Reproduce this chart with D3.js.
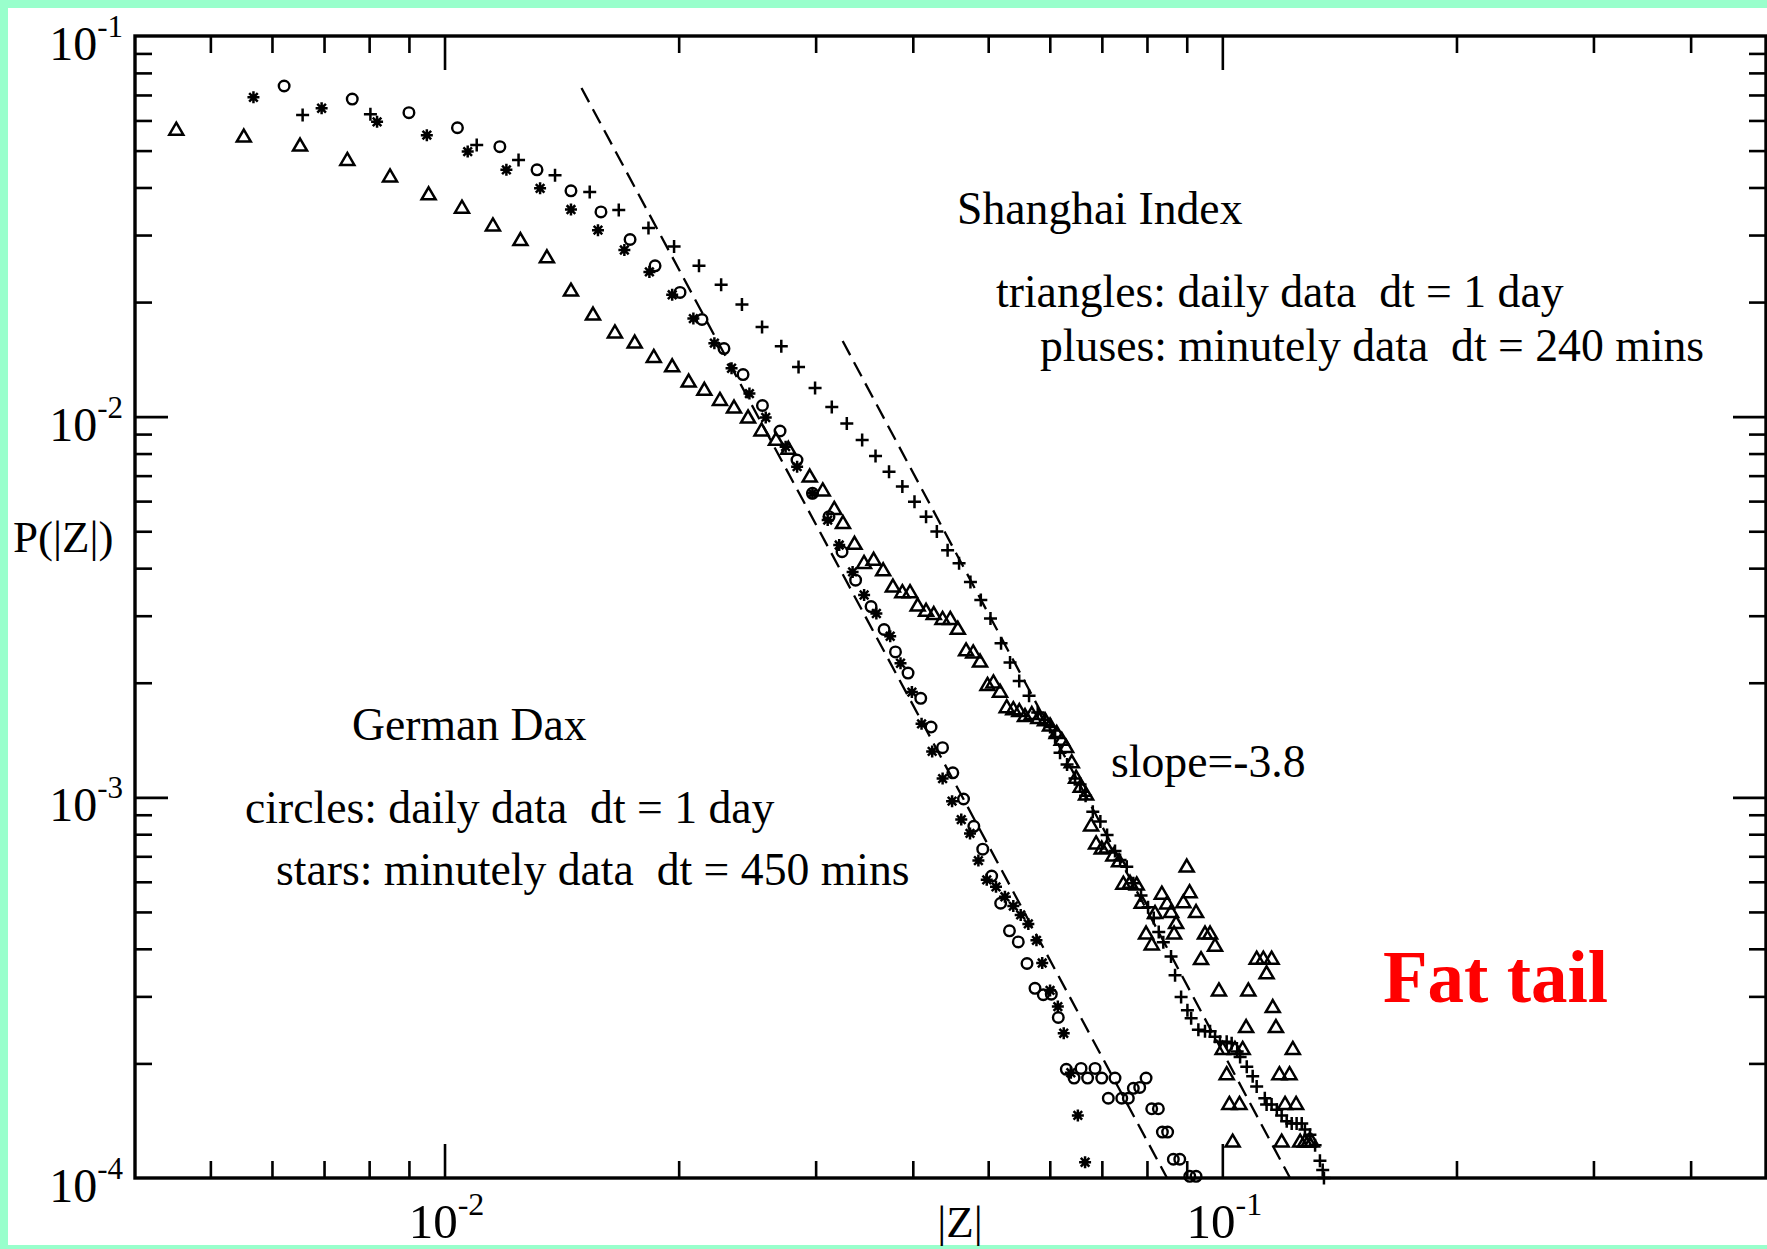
<!DOCTYPE html>
<html>
<head>
<meta charset="utf-8">
<script src="https://cdn.jsdelivr.net/npm/d3@7"></script>
<style>
    html, body { margin: 0; padding: 0; background: #99ffcc; }
    svg { display: block; }
    text { font-family: "Liberation Serif", "Times New Roman", serif; fill: #000; white-space: pre; }
</style>
</head>
<body>
<div id="chart-area"></div>
<script>

// data: [|Z|, P(|Z|)]

// Shanghai Index, daily data (triangles)
var shanghaiDaily = [
    [0.00452, 0.0569], [0.00552, 0.0546], [0.00652, 0.0517], [0.00750, 0.0474], [0.00851, 0.0429],
    [0.00954, 0.0385], [0.01053, 0.0355], [0.01154, 0.0319], [0.01252, 0.0292], [0.01354, 0.0263],
    [0.01454, 0.0215], [0.01552, 0.0186], [0.01656, 0.0167], [0.01756, 0.0157], [0.01858, 0.0144],
    [0.01962, 0.0136], [0.0206, 0.0124], [0.02158, 0.0118], [0.0226, 0.0111], [0.02356, 0.0106],
    [0.02456, 0.00998], [0.02556, 0.00923], [0.02668, 0.00872], [0.02767, 0.00826], [0.02948, 0.00698],
    [0.03064, 0.00642], [0.0317, 0.00574], [0.03253, 0.00527], [0.03366, 0.00465], [0.03462, 0.00414],
    [0.03562, 0.00422], [0.03664, 0.00396], [0.03771, 0.00359], [0.03878, 0.00347], [0.03967, 0.00347],
    [0.04058, 0.0032], [0.0416, 0.0031], [0.04256, 0.00304], [0.04368, 0.00295], [0.04469, 0.00295],
    [0.0457, 0.00278], [0.04683, 0.00244], [0.04783, 0.00241], [0.04881, 0.00228], [0.0499, 0.00198],
    [0.05078, 0.00201], [0.05178, 0.0019], [0.05282, 0.00173], [0.05386, 0.00171], [0.05483, 0.00169],
    [0.05576, 0.00164], [0.05689, 0.00166], [0.058, 0.00162], [0.05916, 0.0016], [0.06005, 0.00155],
    [0.06125, 0.00148], [0.06216, 0.00142], [0.06297, 0.00136], [0.06404, 0.00124], [0.06486, 0.00113],
    [0.06576, 0.00107], [0.06681, 0.00102], [0.06781, 0.000846], [0.06882, 0.000759], [0.06998, 0.000736],
    [0.07102, 0.00074], [0.07243, 0.000706], [0.07366, 0.000681], [0.0746, 0.000595], [0.07609, 0.000598],
    [0.07761, 0.000592], [0.07877, 0.00053], [0.07979, 0.00044], [0.08114, 0.000412], [0.08194, 0.000498],
    [0.0836, 0.00056], [0.08492, 0.000528], [0.08592, 0.000501], [0.08721, 0.000469], [0.08669, 0.00044],
    [0.08911, 0.000532], [0.09075, 0.000565], [0.09, 0.00066], [0.09252, 0.000501], [0.09389, 0.000377],
    [0.095, 0.00044], [0.09643, 0.00044], [0.09786, 0.000409], [0.1107, 0.000378], [0.1129, 0.000378],
    [0.1157, 0.000378], [0.114, 0.000346], [0.099, 0.000312], [0.108, 0.000312], [0.1161, 0.000282],
    [0.1073, 0.00025], [0.1172, 0.00025], [0.1001, 0.000219], [0.1038, 0.000219], [0.1062, 0.000219],
    [0.1232, 0.000219], [0.1013, 0.000188], [0.1184, 0.000188], [0.122, 0.000188], [0.1021, 0.000157],
    [0.1052, 0.000157], [0.1204, 0.000157], [0.1244, 0.000157], [0.1031, 0.000125], [0.1192, 0.000125],
    [0.1259, 0.000125], [0.1277, 0.000125], [0.129, 0.000125], [0.1303, 0.000125]
];

// Shanghai Index, minutely data dt = 240 mins (pluses)
var shanghaiMinute = [
    [0.00657, 0.062], [0.00803, 0.0623], [0.011, 0.0517], [0.01245, 0.0472], [0.01387, 0.0431],
    [0.01537, 0.0389], [0.01675, 0.0349], [0.01829, 0.0313], [0.01973, 0.028], [0.02124, 0.0249],
    [0.02268, 0.0222], [0.02412, 0.0197], [0.0256, 0.0172], [0.0271, 0.0153], [0.02852, 0.0135],
    [0.02995, 0.0119], [0.03147, 0.0106], [0.0329, 0.0096], [0.03443, 0.00868], [0.03582, 0.00788],
    [0.03728, 0.00717], [0.03878, 0.00655], [0.0402, 0.00598], [0.0416, 0.00546], [0.04295, 0.00499],
    [0.04434, 0.00446], [0.04587, 0.00412], [0.04744, 0.00368], [0.04892, 0.0033], [0.05034, 0.00295],
    [0.05194, 0.00254], [0.05334, 0.00226], [0.05481, 0.00202], [0.05643, 0.00185], [0.0579, 0.00167],
    [0.05916, 0.0016], [0.06005, 0.00153], [0.06095, 0.00144], [0.06185, 0.00131], [0.06315, 0.00122],
    [0.06466, 0.00112], [0.06563, 0.00108], [0.06671, 0.00101], [0.06815, 0.000917], [0.06969, 0.000864],
    [0.07109, 0.000796], [0.07278, 0.000723], [0.07388, 0.000685], [0.07536, 0.000657], [0.07684, 0.000595],
    [0.07861, 0.000552], [0.08026, 0.000514], [0.08163, 0.000482], [0.08284, 0.000443], [0.08397, 0.000416],
    [0.08591, 0.000382], [0.08694, 0.000341], [0.08851, 0.000299], [0.09018, 0.000276], [0.09118, 0.000263],
    [0.09315, 0.000245], [0.095, 0.000243], [0.09643, 0.000243], [0.09786, 0.000235], [0.09931, 0.000228],
    [0.1013, 0.000228], [0.1028, 0.000226], [0.1045, 0.000215], [0.1054, 0.000208], [0.1075, 0.000196],
    [0.1094, 0.000185], [0.1107, 0.000174], [0.1134, 0.000162], [0.114, 0.000156], [0.1157, 0.000156],
    [0.1175, 0.000151], [0.1192, 0.000146], [0.121, 0.000141], [0.1228, 0.000139], [0.1246, 0.000139],
    [0.1265, 0.000139], [0.1277, 0.000134], [0.1296, 0.00013], [0.1316, 0.000122], [0.1335, 0.000111],
    [0.1346, 0.000105], [0.1351, 0.0001]
];

// German Dax, daily data (circles)
var daxDaily = [
    [0.00622, 0.0739], [0.00761, 0.0683], [0.009, 0.0629], [0.01039, 0.0574], [0.01178, 0.0512],
    [0.01315, 0.0445], [0.01454, 0.0392], [0.01589, 0.0345], [0.01732, 0.0292], [0.01865, 0.0249],
    [0.02008, 0.0212], [0.02143, 0.018], [0.02287, 0.0151], [0.0242, 0.0129], [0.02563, 0.0107],
    [0.027, 0.00917], [0.02839, 0.00769], [0.02972, 0.00629], [0.03121, 0.00546], [0.03244, 0.00442],
    [0.03377, 0.00372], [0.03535, 0.00317], [0.03674, 0.00276], [0.038, 0.00241], [0.03944, 0.00212],
    [0.04095, 0.00182], [0.04222, 0.00153], [0.04368, 0.00135], [0.04503, 0.00116], [0.04648, 0.00099],
    [0.04792, 0.000839], [0.0492, 0.000731], [0.05052, 0.000621], [0.05188, 0.000527], [0.05325, 0.000446],
    [0.05466, 0.000417], [0.05609, 0.000366], [0.05743, 0.000315], [0.05886, 0.000303], [0.06027, 0.000304],
    [0.06153, 0.000264], [0.06301, 0.000193], [0.06447, 0.000183], [0.06582, 0.000194], [0.06711, 0.000183],
    [0.06861, 0.000194], [0.06998, 0.000183], [0.07135, 0.000162], [0.07278, 0.000183], [0.07425, 0.000162],
    [0.07571, 0.000162], [0.07684, 0.000172], [0.0783, 0.000173], [0.07979, 0.000183], [0.08114, 0.000152],
    [0.08275, 0.000152], [0.08374, 0.000132], [0.08505, 0.000132], [0.0865, 0.000112], [0.08816, 0.000112],
    [0.09081, 0.000101], [0.09252, 0.000101]
];

// German Dax, minutely data dt = 450 mins (stars)
var daxMinute = [
    [0.00568, 0.069], [0.00695, 0.0646], [0.00819, 0.0595], [0.00949, 0.0549], [0.01071, 0.0497],
    [0.01201, 0.0445], [0.01327, 0.0398], [0.01454, 0.035], [0.01575, 0.0309], [0.01703, 0.0274],
    [0.01834, 0.024], [0.01962, 0.0209], [0.02089, 0.0181], [0.02223, 0.0156], [0.02339, 0.0134],
    [0.02466, 0.0115], [0.02588, 0.00995], [0.02745, 0.00834], [0.0284, 0.00739], [0.02972, 0.00629],
    [0.03109, 0.00535], [0.03217, 0.0046], [0.03347, 0.00391], [0.03463, 0.0034], [0.03591, 0.00304],
    [0.03741, 0.00265], [0.03857, 0.00225], [0.03989, 0.00189], [0.04105, 0.00156], [0.04236, 0.00132],
    [0.04369, 0.00112], [0.04493, 0.000977], [0.04617, 0.000874], [0.04738, 0.000804], [0.04857, 0.000682],
    [0.04979, 0.000607], [0.05117, 0.000582], [0.05254, 0.000548], [0.05386, 0.000518], [0.05505, 0.000491],
    [0.05631, 0.000465], [0.05768, 0.000421], [0.05867, 0.000367], [0.06005, 0.000311], [0.06145, 0.000282],
    [0.06253, 0.00024], [0.06386, 0.000189], [0.0652, 0.000146], [0.06661, 0.00011]
];

// dashed power-law guides, slope -3.8
var fitLeft = [[0.0150, 0.073], [0.0849, 0.0001]];
var fitRight = [[0.0325, 0.0158], [0.1222, 0.0001]];

// ticks
var xMinorTicks = [0.005, 0.006, 0.007, 0.008, 0.009, 0.02, 0.03, 0.04, 0.05, 0.06, 0.07, 0.08, 0.09, 0.2, 0.3, 0.4];
var xMajorTicks = [0.01, 0.1];
var yMinorTicks = [0.0002, 0.0003, 0.0004, 0.0005, 0.0006, 0.0007, 0.0008, 0.0009,
    0.002, 0.003, 0.004, 0.005, 0.006, 0.007, 0.008, 0.009,
    0.02, 0.03, 0.04, 0.05, 0.06, 0.07, 0.08, 0.09];
var yMajorTicks = [0.001, 0.01];
var xLabelValues = [0.01, 0.1];
var xLabelExps = ["-2", "-1"];
var yLabelValues = [0.1, 0.01, 0.001, 0.0001];
var yLabelExps = ["-1", "-2", "-3", "-4"];

var notes = ["Shanghai Index", "triangles: daily data  dt = 1 day", "pluses: minutely data  dt = 240 mins",
    "German Dax", "circles: daily data  dt = 1 day", "stars: minutely data  dt = 450 mins", "slope=-3.8"];

// SVG drawing area
var margin = {top: 36, right: 1, bottom: 71, left: 135};
var width = 1767 - margin.left - margin.right,
    height = 1249 - margin.top - margin.bottom;

var root = d3.select("#chart-area").append("svg")
    .attr("width", 1767)
    .attr("height", 1249);

root.append("rect")
    .attr("width", 1767).attr("height", 1249)
    .attr("fill", "#99ffcc");
root.append("rect")
    .attr("x", 8).attr("y", 8)
    .attr("width", 1767 - 8).attr("height", 1245 - 8)
    .attr("fill", "#ffffff");

var svg = root.append("g")
    .attr("transform", "translate(" + margin.left + "," + margin.top + ")");

var x = d3.scaleLog().domain([0.004, 0.5]).range([0, width]);
var y = d3.scaleLog().domain([0.0001, 0.1]).range([height, 0]);

// axes: all ticks point inwards
function tickAxis(axis, vals, size) {
    return axis.tickValues(vals).tickSize(size).tickSizeOuter(0).tickFormat("");
}

var axes = [
    {a: tickAxis(d3.axisBottom(x), xMinorTicks, -17), t: "translate(0," + height + ")"},
    {a: tickAxis(d3.axisBottom(x), xMajorTicks, -34), t: "translate(0," + height + ")"},
    {a: tickAxis(d3.axisTop(x), xMinorTicks, -17), t: "translate(0,0)"},
    {a: tickAxis(d3.axisTop(x), xMajorTicks, -34), t: "translate(0,0)"},
    {a: tickAxis(d3.axisLeft(y), yMinorTicks, -17), t: "translate(0,0)"},
    {a: tickAxis(d3.axisLeft(y), yMajorTicks, -33), t: "translate(0,0)"},
    {a: tickAxis(d3.axisRight(y), yMinorTicks, -17), t: "translate(" + width + ",0)"},
    {a: tickAxis(d3.axisRight(y), yMajorTicks, -33), t: "translate(" + width + ",0)"}
];

axes.forEach(function (d) {
    var g = svg.append("g").attr("transform", d.t).call(d.a);
    g.select(".domain").remove();
    g.selectAll(".tick line").attr("stroke", "#000").attr("stroke-width", 2.6);
});

// frame
svg.append("rect")
    .attr("x", 0).attr("y", 0)
    .attr("width", width).attr("height", height)
    .attr("fill", "none")
    .attr("stroke", "#000")
    .attr("stroke-width", 3.4);

// tick labels 10^n
yLabelValues.forEach(function (v, i) {
    var t = svg.append("text")
        .attr("x", -12)
        .attr("y", y(v) + 24)
        .attr("text-anchor", "end")
        .style("font-size", "48px");
    t.append("tspan").text("10");
    t.append("tspan").attr("dy", -23).style("font-size", "31px").text(yLabelExps[i]);
});

xLabelValues.forEach(function (v, i) {
    var t = svg.append("text")
        .attr("x", x(v) + 2)
        .attr("y", height + 60)
        .attr("text-anchor", "middle")
        .style("font-size", "49px");
    t.append("tspan").text("10");
    t.append("tspan").attr("dy", -23).style("font-size", "32px").text(xLabelExps[i]);
});

// axis titles
root.append("text")
    .attr("x", 13).attr("y", 552)
    .style("font-size", "45px")
    .text("P(|Z|)");

root.append("text")
    .attr("x", 960).attr("y", 1237)
    .attr("text-anchor", "middle")
    .style("font-size", "45px")
    .text("|Z|");

// dashed guides
var line = d3.line()
    .x(function (d) { return x(d[0]); })
    .y(function (d) { return y(d[1]); });

[fitLeft, fitRight].forEach(function (f) {
    svg.append("path")
        .datum(f)
        .attr("d", line)
        .attr("fill", "none")
        .attr("stroke", "#000")
        .attr("stroke-width", 2.3)
        .attr("stroke-dasharray", "16,8");
});

// markers
var shapes = {
    triangle: "M0,-6.5L7,5.5L-7,5.5Z",
    plus: "M-6.5,0H6.5M0,-6.5V6.5",
    star: "M-6,0H6M0,-6V6M-4.3,-4.3L4.3,4.3M-4.3,4.3L4.3,-4.3"
};

function drawPaths(data, shape, cls) {
    svg.selectAll("." + cls)
        .data(data)
        .enter().append("path")
        .attr("class", cls)
        .attr("transform", function (d) {
            return "translate(" + x(d[0]) + "," + y(d[1]) + ")";
        })
        .attr("d", shape)
        .attr("fill", "none")
        .attr("stroke", "#000")
        .attr("stroke-width", 2.5);
}

drawPaths(shanghaiDaily, shapes.triangle, "tri");
drawPaths(shanghaiMinute, shapes.plus, "plus");
drawPaths(daxMinute, shapes.star, "star");

svg.selectAll(".circ")
    .data(daxDaily)
    .enter().append("circle")
    .attr("class", "circ")
    .attr("cx", function (d) { return x(d[0]); })
    .attr("cy", function (d) { return y(d[1]); })
    .attr("r", 5.3)
    .attr("fill", "none")
    .attr("stroke", "#000")
    .attr("stroke-width", 2.4);

// annotations
var notePos = [[957, 224], [996, 307], [1040, 361], [352, 740], [245, 823], [276, 885], [1111, 777]];
notes.forEach(function (s, i) {
    root.append("text")
        .attr("x", notePos[i][0])
        .attr("y", notePos[i][1])
        .style("font-size", "45.7px")
        .text(s);
});

root.append("text")
    .attr("x", 1383).attr("y", 1002)
    .style("font-size", "73px")
    .style("font-weight", "bold")
    .style("fill", "#ff0000")
    .text("Fat tail");

</script>
</body>
</html>
